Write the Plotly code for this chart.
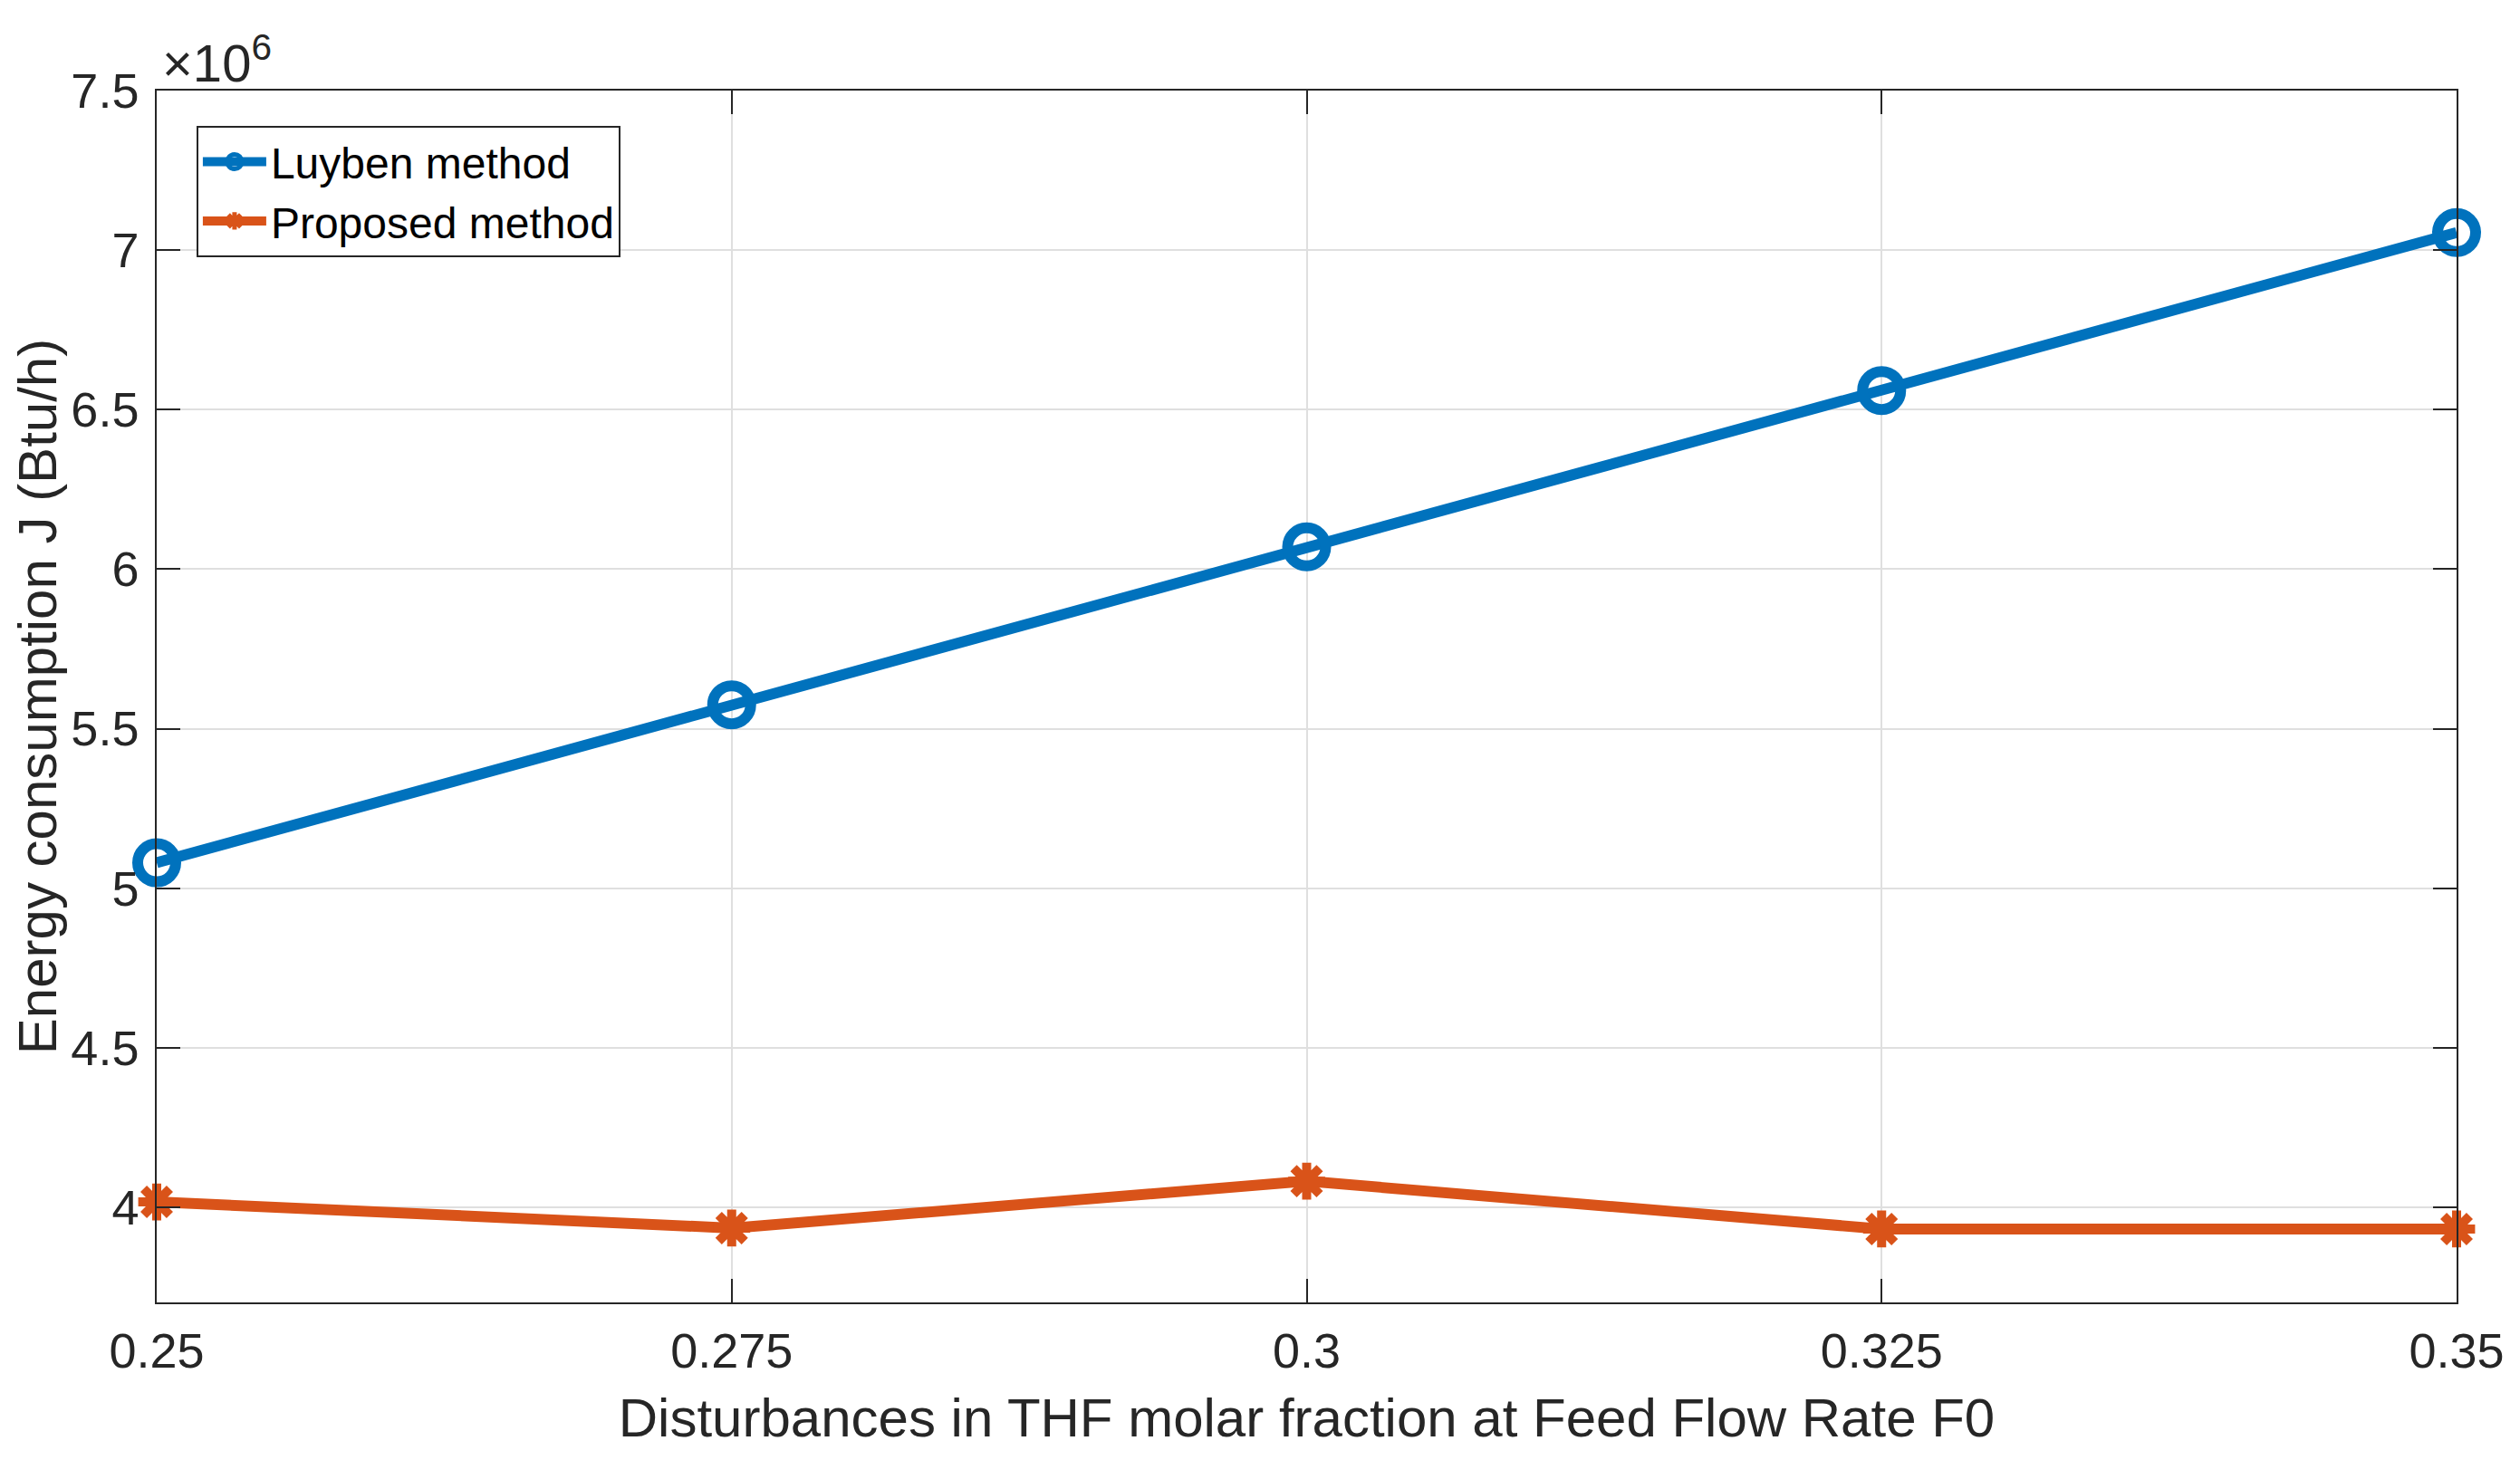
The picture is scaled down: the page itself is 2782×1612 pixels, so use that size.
import plotly.graph_objects as go

# Data (energy in units of 1e6 Btu/h)
thf_fraction = [0.25, 0.275, 0.3, 0.325, 0.35]
luyben = [5.08, 5.575, 6.07, 6.56, 7.055]
proposed = [4.017, 3.935, 4.082, 3.932, 3.932]

x_tickvals = [0.25, 0.275, 0.3, 0.325, 0.35]
x_ticktext = ["0.25", "0.275", "0.3", "0.325", "0.35"]
y_tickvals = [4, 4.5, 5, 5.5, 6, 6.5, 7, 7.5]
y_ticktext = ["4", "4.5", "5", "5.5", "6", "6.5", "7", "7.5"]

BLUE = "#0072BD"
ORANGE = "#D95319"
TXT = "#262626"
FONT = "Liberation Sans, Arial, Helvetica, sans-serif"

fig = go.Figure()
fig.add_trace(go.Scatter(
    x=thf_fraction, y=luyben, mode="lines+markers", name="Luyben method",
    line=dict(color=BLUE, width=12),
    marker=dict(symbol="circle-open", size=42, color=BLUE, line=dict(width=12, color=BLUE)),
    cliponaxis=False,
))
fig.add_trace(go.Scatter(
    x=thf_fraction, y=proposed, mode="lines+markers", name="Proposed method",
    line=dict(color=ORANGE, width=12),
    marker=dict(symbol="asterisk-open", size=34, color=ORANGE, line=dict(width=10, color=ORANGE)),
    cliponaxis=False,
))

axis_common = dict(
    showline=True, linecolor=TXT, linewidth=1.5, mirror="ticks",
    ticks="inside", ticklen=26, tickwidth=1.5, tickcolor=TXT,
    showgrid=True, gridcolor="#dfdfdf", gridwidth=1.5,
    zeroline=False, automargin=False,
    tickfont=dict(family=FONT, size=54, color=TXT),
)

fig.update_xaxes(
    range=[0.25, 0.35], tickvals=x_tickvals, ticktext=x_ticktext,
    title=dict(text="Disturbances in THF molar fraction at Feed Flow Rate F0",
               font=dict(family=FONT, size=60, color=TXT), standoff=24),
    ticklabelstandoff=5,
    **axis_common,
)
fig.update_yaxes(
    range=[3.702, 7.5], tickvals=y_tickvals, ticktext=y_ticktext,
    title=dict(text="Energy consumption J (Btu/h)",
               font=dict(family=FONT, size=60, color=TXT), standoff=14),
    ticklabelstandoff=7,
    **axis_common,
)

fig.add_annotation(
    xref="paper", yref="paper", x=0.0, y=1.0, xanchor="left", yanchor="bottom",
    xshift=4, yshift=-4,
    text="×10<sup>6</sup>", showarrow=False,
    font=dict(family=FONT, size=58, color=TXT),
)

fig.update_layout(
    width=2774, height=1604,
    margin=dict(l=165, r=70, t=92, b=174),
    paper_bgcolor="white", plot_bgcolor="white",
    font=dict(family=FONT, color=TXT),
    showlegend=True,
    legend=dict(
        x=0.0173, y=0.971, xanchor="left", yanchor="top",
        bgcolor="white", bordercolor=TXT, borderwidth=2,
        font=dict(family=FONT, size=48, color="black"),
        itemwidth=70, tracegroupgap=0,
    ),
)

fig.write_html("out.html")
